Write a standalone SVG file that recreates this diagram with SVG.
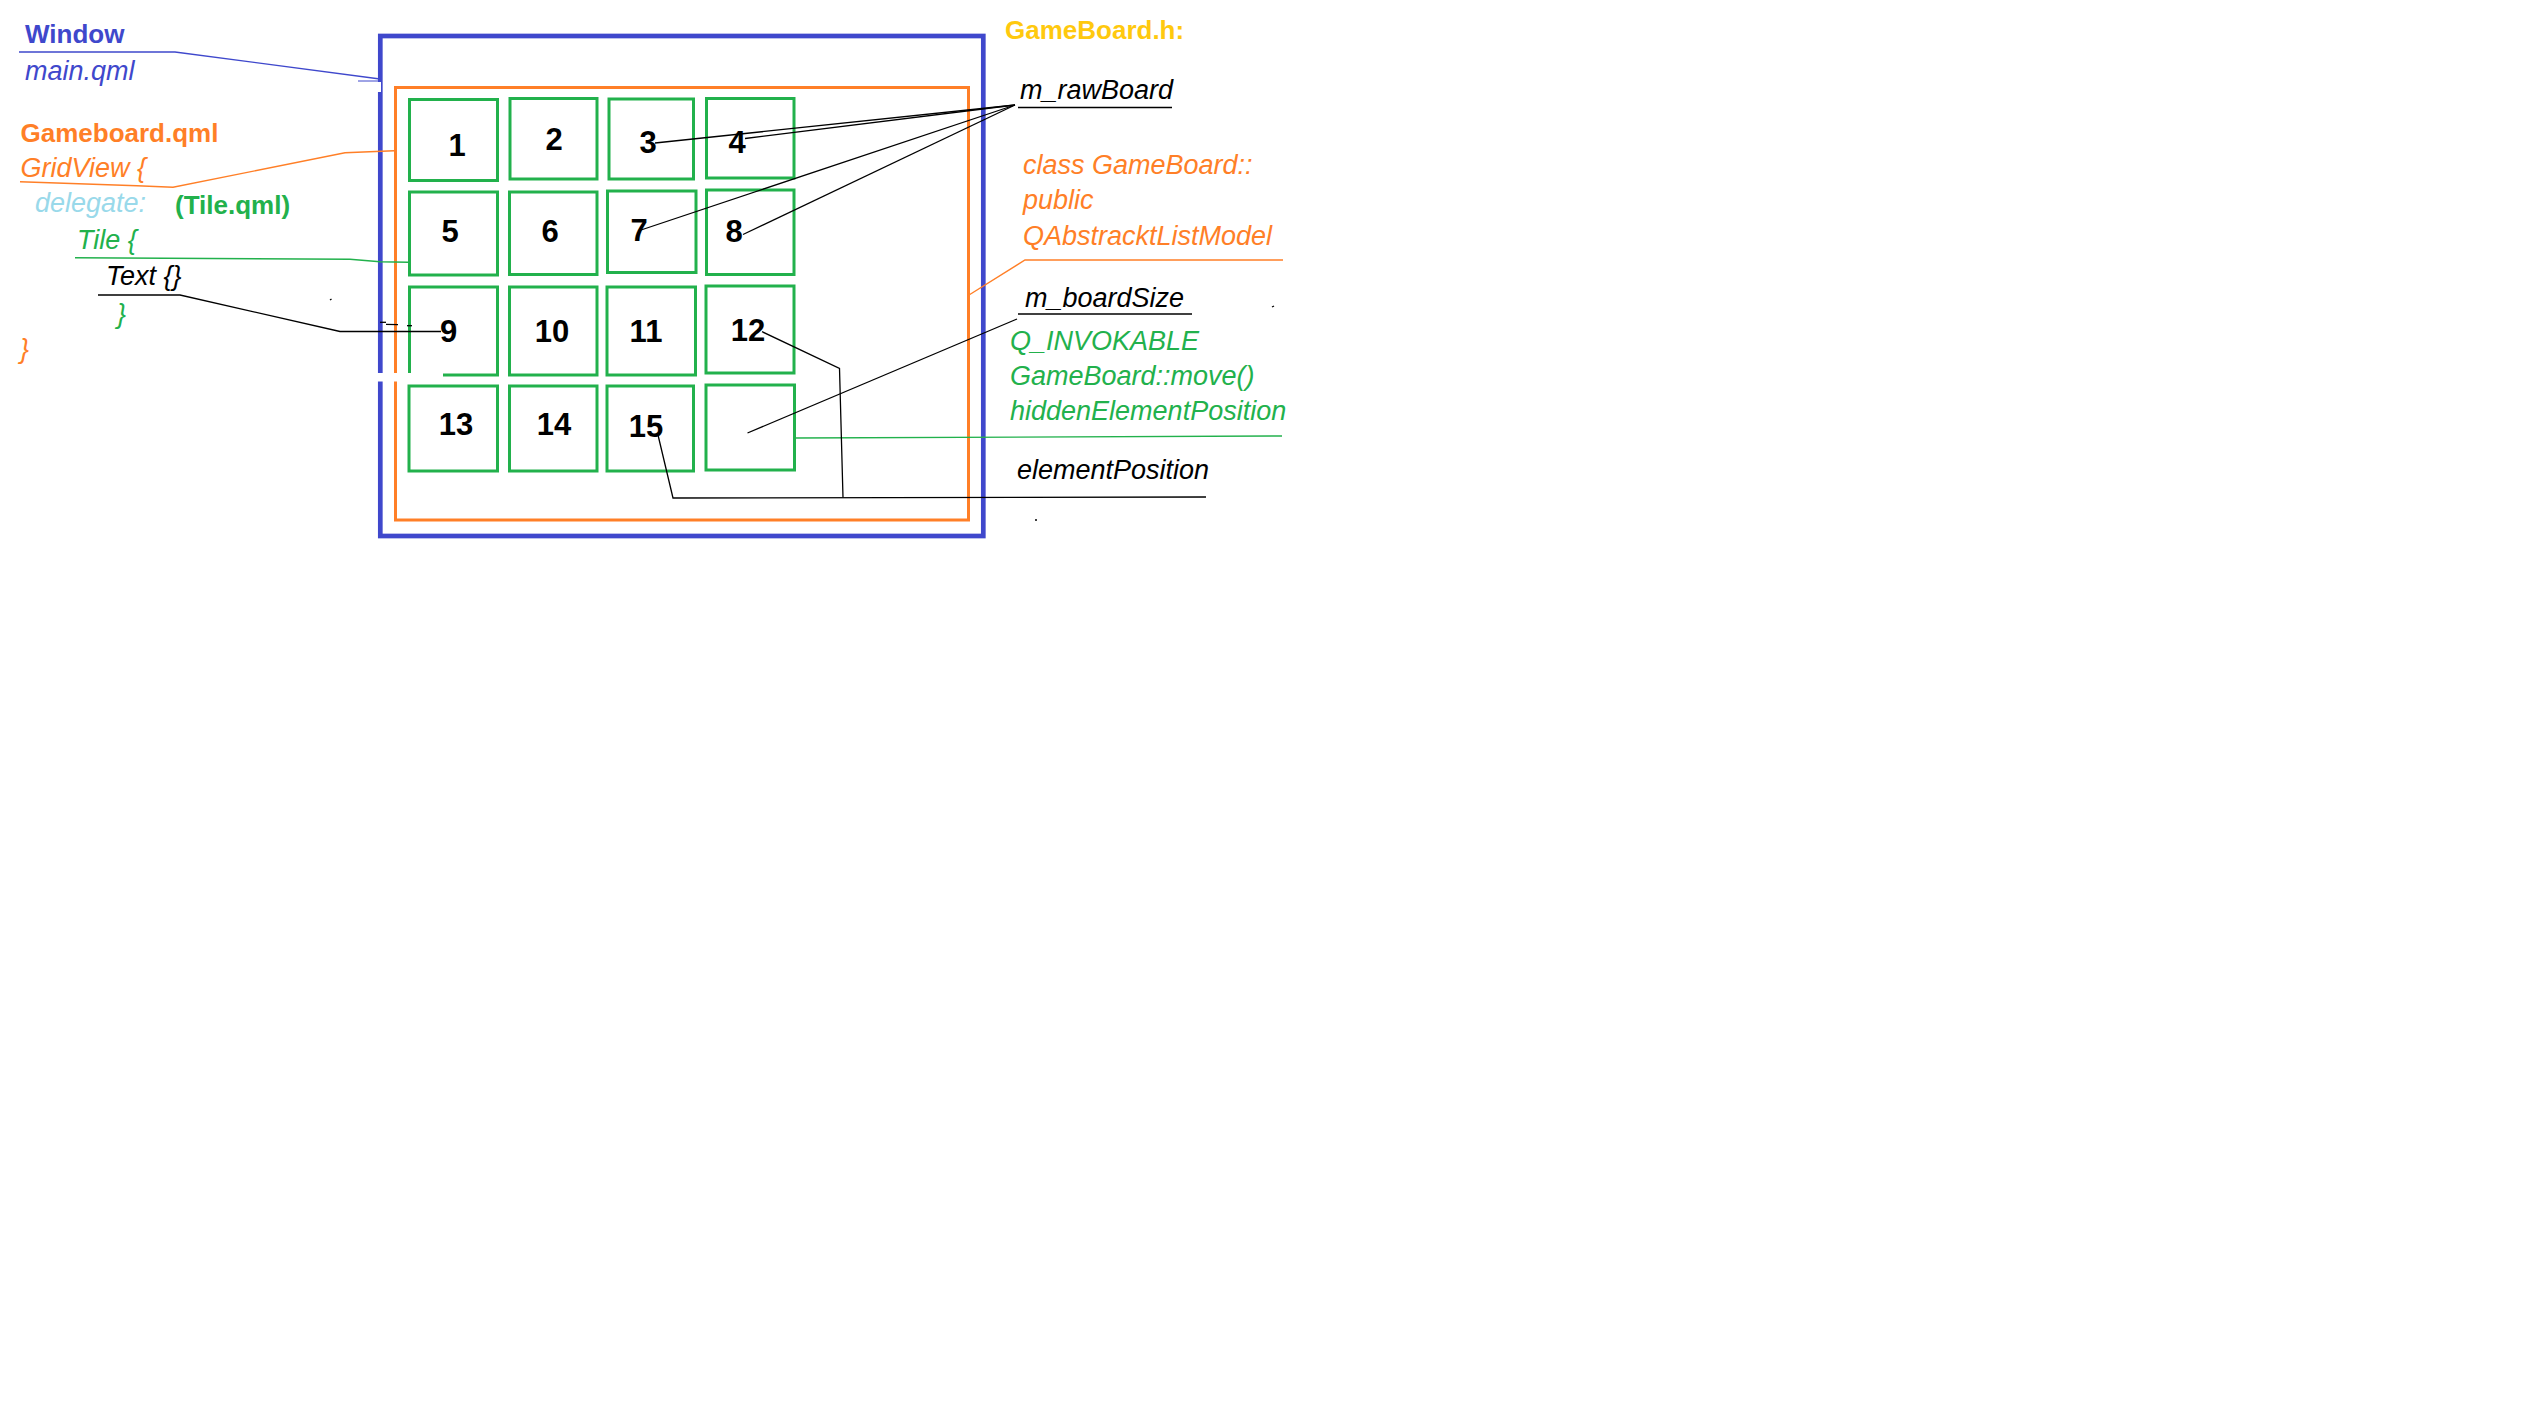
<svg xmlns="http://www.w3.org/2000/svg" width="2534" height="1425" viewBox="0 0 2534 1425">
<style>
.t{font-family:"Liberation Sans",Arial,sans-serif;font-size:26px}
.b{font-weight:bold}
.i{font-style:italic;font-size:27px}
.num{font-family:"Liberation Sans",Arial,sans-serif;font-size:31px;font-weight:bold;fill:#000;text-anchor:middle}
.tile{fill:none;stroke:#22b14c;stroke-width:3}
.blk{fill:none;stroke:#000;stroke-width:1.3}
</style>
<rect x="0" y="0" width="2534" height="1425" fill="#fff"/>
<g id="window">
<rect x="380.3" y="36" width="603" height="500" fill="none" stroke="#3f48cc" stroke-width="4.7"/>
</g>
<g id="gameboard">
<rect x="395.5" y="87.5" width="573" height="432.5" fill="none" stroke="#ff7f27" stroke-width="3"/>
</g>
<g id="tiles">
<g id="tile1"><rect class="tile" x="409.5" y="99.5" width="88" height="81"/><text class="num" x="457" y="156">1</text></g>
<g id="tile2"><rect class="tile" x="510" y="98.5" width="87" height="80.5"/><text class="num" x="554" y="150">2</text></g>
<g id="tile3"><rect class="tile" x="609" y="99" width="84.5" height="80"/><text class="num" x="648" y="153">3</text></g>
<g id="tile4"><rect class="tile" x="706.5" y="98.5" width="87.5" height="79.5"/><text class="num" x="737" y="153">4</text></g>
<g id="tile5"><rect class="tile" x="409.5" y="192" width="88" height="83"/><text class="num" x="450" y="242">5</text></g>
<g id="tile6"><rect class="tile" x="509.5" y="192" width="87.5" height="82.5"/><text class="num" x="550" y="242">6</text></g>
<g id="tile7"><rect class="tile" x="607.5" y="191" width="88.5" height="81.5"/><text class="num" x="639" y="241">7</text></g>
<g id="tile8"><rect class="tile" x="706.5" y="190" width="87.5" height="84.5"/><text class="num" x="734" y="242">8</text></g>
<g id="tile9"><rect class="tile" x="409.5" y="287" width="88" height="88"/><text class="num" x="448.5" y="342">9</text></g>
<g id="tile10"><rect class="tile" x="509.5" y="287" width="87.5" height="88"/><text class="num" x="552" y="342">10</text></g>
<g id="tile11"><rect class="tile" x="607" y="287" width="88.5" height="88"/><text class="num" x="646" y="342">11</text></g>
<g id="tile12"><rect class="tile" x="706" y="286" width="88" height="87"/><text class="num" x="748" y="341">12</text></g>
<g id="tile13"><rect class="tile" x="409" y="386" width="88.5" height="85"/><text class="num" x="456" y="435">13</text></g>
<g id="tile14"><rect class="tile" x="509.5" y="386" width="87.5" height="85"/><text class="num" x="554" y="435">14</text></g>
<g id="tile15"><rect class="tile" x="607" y="386" width="86.5" height="85"/><text class="num" x="646" y="437">15</text></g>
<g id="tile16"><rect class="tile" x="706" y="385" width="88.5" height="85"/></g>
</g>
<g id="gaps" fill="#fff">
<rect x="377" y="82" width="4" height="10"/>
<rect x="376" y="373" width="67" height="8.5"/>
</g>
<g id="labels-left">
<text class="t b" x="25" y="43" fill="#3f48cc">Window</text>
<text class="t i" x="25" y="80" fill="#3f48cc">main.qml</text>
<text class="t b" x="20.5" y="141.5" fill="#ff7f27">Gameboard.qml</text>
<text class="t i" x="20.5" y="177" fill="#ff7f27">GridView {</text>
<text class="t i" x="35" y="212" fill="#99d9ea">delegate:</text>
<text class="t b" x="175" y="214" fill="#22b14c">(Tile.qml)</text>
<text class="t i" x="77" y="249" fill="#22b14c">Tile {</text>
<text class="t i" x="106" y="285" fill="#000">Text {}</text>
<text class="t i" x="117" y="323" fill="#22b14c">}</text>
<text class="t i" x="20" y="358" fill="#ff7f27">}</text>
</g>
<g id="labels-right">
<text class="t b" x="1005" y="38.5" fill="#ffc90e">GameBoard.h:</text>
<text class="t i" x="1020" y="99" fill="#000">m_rawBoard</text>
<text class="t i" x="1023" y="173.5" fill="#ff7f27">class GameBoard::</text>
<text class="t i" x="1023" y="208.5" fill="#ff7f27">public</text>
<text class="t i" x="1023" y="245" fill="#ff7f27">QAbstracktListModel</text>
<text class="t i" x="1025" y="306.5" fill="#000">m_boardSize</text>
<text class="t i" x="1010" y="349.5" fill="#22b14c">Q_INVOKABLE</text>
<text class="t i" x="1010" y="385" fill="#22b14c">GameBoard::move()</text>
<text class="t i" x="1010" y="420" fill="#22b14c">hiddenElementPosition</text>
<text class="t i" x="1017" y="478.5" fill="#000">elementPosition</text>
</g>
<g id="connectors">
<polyline points="19,52 175,52 380,79" fill="none" stroke="#3f48cc" stroke-width="1.4"/>
<line x1="358" y1="81" x2="379" y2="81" stroke="#3f48cc" stroke-width="1"/>
<polyline points="20,181.7 137,185.7 173,187.3 345,152.7 394,150.7" fill="none" stroke="#ff7f27" stroke-width="1.4"/>
<polyline points="75,257.7 350,259.3 380,261.7 408,262.3" fill="none" stroke="#22b14c" stroke-width="1.4"/>
<polyline class="blk" points="98,295 180,295 340,331.5 441,331.5"/>
<line class="blk" x1="380" y1="322.3" x2="386" y2="322.3"/>
<line class="blk" x1="386" y1="324.3" x2="398" y2="324.7"/>
<line class="blk" x1="407" y1="325.7" x2="412" y2="325.7"/>
<line class="blk" x1="330" y1="300" x2="331.5" y2="299"/>
<line class="blk" x1="1272" y1="307" x2="1274" y2="306"/>
<line class="blk" x1="1035" y1="520" x2="1037" y2="520"/>
<line class="blk" x1="1018" y1="107.5" x2="1172" y2="107.5"/>
<line class="blk" x1="655" y1="143" x2="1015" y2="105"/>
<line class="blk" x1="745" y1="138.5" x2="1015" y2="105"/>
<line class="blk" x1="639.5" y1="230.5" x2="1015" y2="105"/>
<line class="blk" x1="743" y1="234.5" x2="1015" y2="105"/>
<polyline points="969,295 1025,260 1283,260" fill="none" stroke="#ff7f27" stroke-width="1.4"/>
<line class="blk" x1="1018" y1="314" x2="1192" y2="314"/>
<line class="blk" x1="1017" y1="319" x2="747.5" y2="433"/>
<line x1="795" y1="438" x2="1282" y2="436" stroke="#22b14c" stroke-width="1.4"/>
<polyline class="blk" points="762,331.7 839.5,368.3 843,497.5"/>
<polyline class="blk" points="658,435 673,498 1206,497"/>
</g>
</svg>
